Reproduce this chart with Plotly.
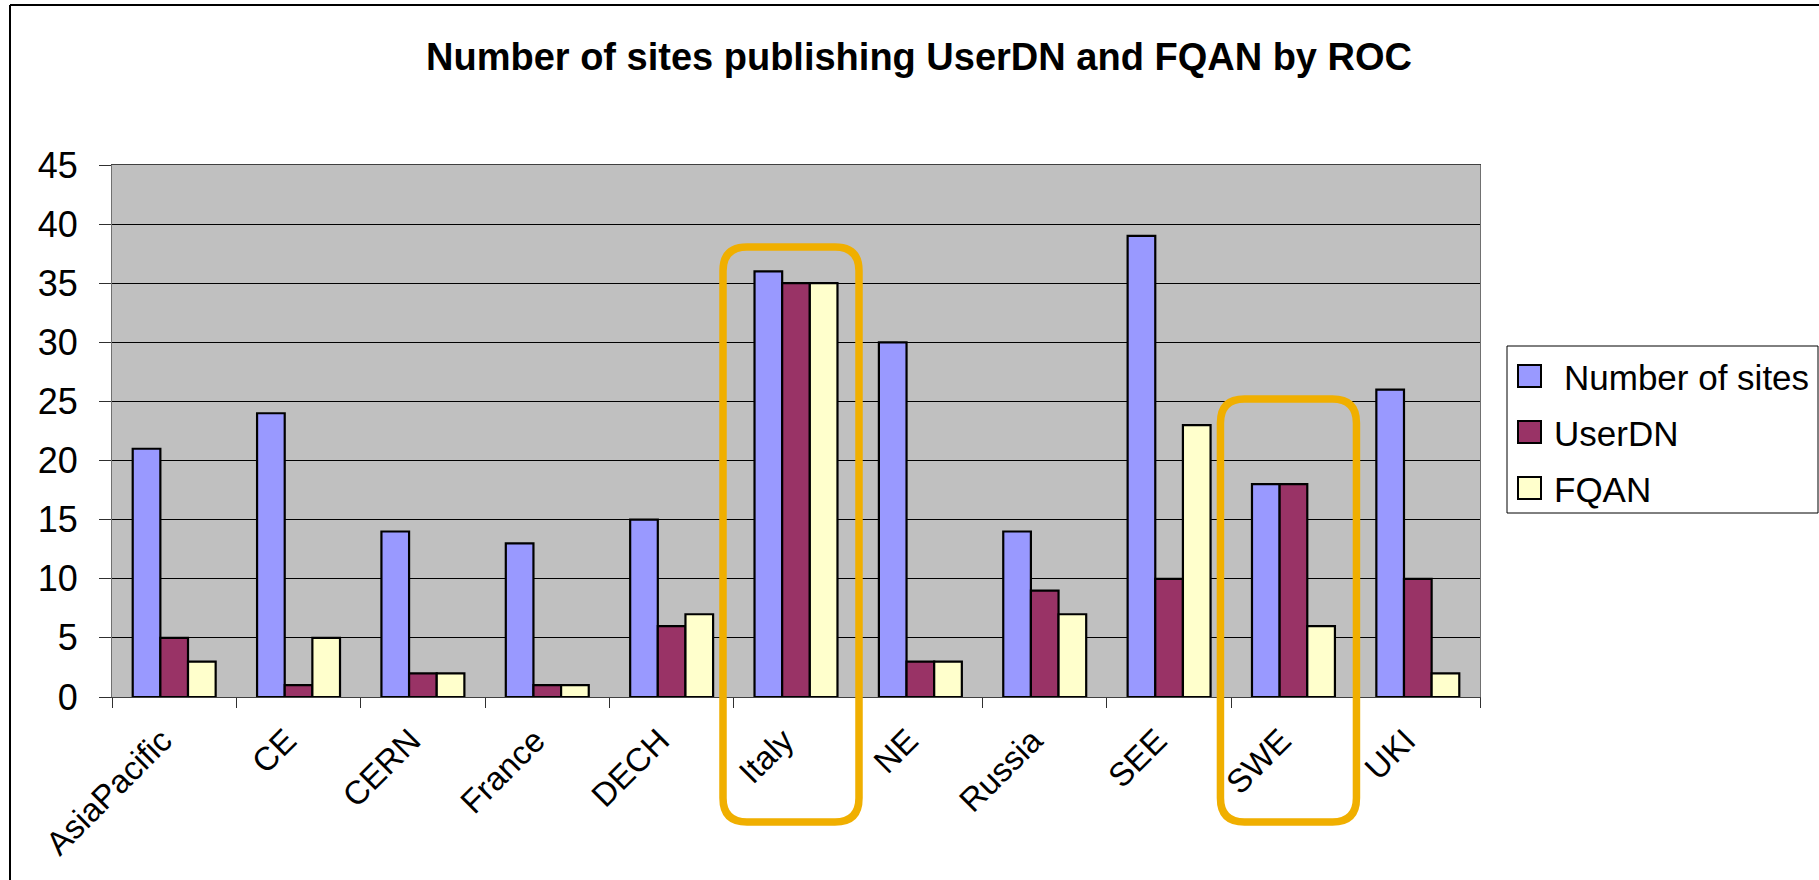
import plotly.graph_objects as go

categories = ["AsiaPacific", "CE", "CERN", "France", "DECH", "Italy", "NE", "Russia", "SEE", "SWE", "UKI"]
number_of_sites = [21, 24, 14, 13, 15, 36, 30, 14, 39, 18, 26]
user_dn = [5, 1, 2, 1, 6, 35, 3, 9, 10, 18, 10]
fqan = [3, 5, 2, 1, 7, 35, 3, 7, 23, 6, 2]
series_names = ["Number of sites", "UserDN", "FQAN"]
series_colors = ["#9999FF", "#993366", "#FFFFCC"]
highlighted = ["Italy", "SWE"]
title_text = "Number of sites publishing UserDN and FQAN by ROC"

W, H = 1819, 880
PL, PR, PT, PB = 112, 1480, 165, 697
FONT = "Liberation Sans, Arial, sans-serif"


def px(x):
    return (x - PL) / (PR - PL)


def py(y):
    return (PB - y) / (PB - PT)


fig = go.Figure()
for name, vals, col in zip(series_names, [number_of_sites, user_dn, fqan], series_colors):
    fig.add_trace(go.Bar(
        x=categories, y=vals, name=name, showlegend=False,
        marker=dict(color=col, line=dict(color="#000000", width=2.2)),
    ))

shapes = []
# outer chart border (left and top)
shapes.append(dict(type="line", xref="paper", yref="paper", x0=px(10), x1=px(10), y0=py(5), y1=py(H + 5),
                   line=dict(color="#000000", width=2)))
shapes.append(dict(type="line", xref="paper", yref="paper", x0=px(10), x1=px(W + 5), y0=py(5), y1=py(5),
                   line=dict(color="#000000", width=2)))


def rounded(l, t, r, b, rad):
    pts = [
        f"M{px(l + rad)},{py(t)}",
        f"L{px(r - rad)},{py(t)}",
        f"Q{px(r)},{py(t)} {px(r)},{py(t + rad)}",
        f"L{px(r)},{py(b - rad)}",
        f"Q{px(r)},{py(b)} {px(r - rad)},{py(b)}",
        f"L{px(l + rad)},{py(b)}",
        f"Q{px(l)},{py(b)} {px(l)},{py(b - rad)}",
        f"L{px(l)},{py(t + rad)}",
        f"Q{px(l)},{py(t)} {px(l + rad)},{py(t)}",
        "Z",
    ]
    return " ".join(pts)


cat_w = (PR - PL) / len(categories)
box_tops = {"Italy": 247, "SWE": 399}
for cat in highlighted:
    i = categories.index(cat)
    cx = PL + cat_w * (i + 0.5)
    l, r = cx - 68 - 5, cx + 68 - 5
    shapes.append(dict(type="path", xref="paper", yref="paper", layer="above",
                       path=rounded(l, box_tops[cat], r, 822, 24),
                       line=dict(color="#F0AF00", width=7.5)))

# legend box
shapes.append(dict(type="rect", xref="paper", yref="paper", x0=px(1507), x1=px(1818), y0=py(346), y1=py(513),
                   line=dict(color="#000000", width=1), fillcolor="#FFFFFF"))
annotations = []
row_y = [376, 432, 488]
for k, (name, col) in enumerate(zip(series_names, series_colors)):
    yc = row_y[k]
    shapes.append(dict(type="rect", xref="paper", yref="paper", x0=px(1518), x1=px(1541),
                       y0=py(yc - 11), y1=py(yc + 11), line=dict(color="#000000", width=2), fillcolor=col))
    annotations.append(dict(xref="paper", yref="paper", x=px(1562 if k == 0 else 1552), y=py(yc + 1),
                            xanchor="left", yanchor="middle", showarrow=False, text=name,
                            font=dict(family=FONT, size=35, color="#000000")))

annotations.append(dict(xref="paper", yref="paper", x=px(919), y=py(57), xanchor="center", yanchor="middle",
                        showarrow=False, text=f"<b>{title_text}</b>",
                        font=dict(family=FONT, size=38, color="#000000")))

fig.update_layout(
    width=W, height=H, autosize=False,
    margin=dict(l=PL, r=W - PR, t=PT, b=H - PB, pad=0),
    paper_bgcolor="#FFFFFF", plot_bgcolor="#C0C0C0",
    barmode="group", bargap=0.333, bargroupgap=0,
    shapes=shapes, annotations=annotations, showlegend=False,
    font=dict(family=FONT, size=33, color="#000000"),
)
fig.update_xaxes(
    type="category", showgrid=False, showline=True, linecolor="#404040", linewidth=1, mirror=True,
    ticks="outside", tickson="boundaries", ticklen=10, tickcolor="#303030", tickwidth=1,
    tickangle=-45, tickfont=dict(family=FONT, size=33, color="#000000"),
    ticklabelstandoff=10, ticklabelshift=-12,
)
fig.update_yaxes(
    range=[0, 45], dtick=5, tick0=0, showgrid=True, gridcolor="#000000", gridwidth=1,
    showline=True, linecolor="#707070", linewidth=1, mirror=True, zeroline=False,
    ticks="outside", ticklen=12, tickcolor="#303030", tickwidth=1,
    tickfont=dict(family=FONT, size=36, color="#000000"), ticklabelstandoff=14,
)

fig.write_html("out.html", config={"displayModeBar": False},
               post_script="document.body.style.margin='0';document.body.style.overflow='hidden';")
